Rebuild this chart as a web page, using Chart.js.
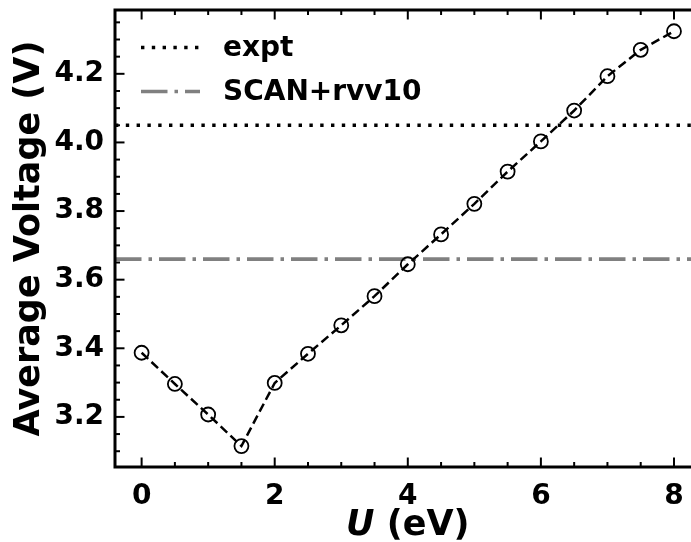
<!DOCTYPE html>
<html>
<head>
<meta charset="utf-8">
<script src="https://cdn.jsdelivr.net/npm/chart.js@4.4.1/dist/chart.umd.min.js"></script>
<style>
    html, body { margin: 0; padding: 0; background: #fff; }
    #wrap { width: 691px; height: 542px; overflow: hidden; }
    canvas { display: block; }
</style>
</head>
<body>
<div id="wrap"><canvas id="voltage-chart" width="704" height="542"></canvas></div>
<script>

const uValues = [0, 0.5, 1, 1.5, 2, 2.5, 3, 3.5, 4, 4.5, 5, 5.5, 6, 6.5, 7, 7.5, 8];
const avgVoltage = [3.387, 3.296, 3.207, 3.115, 3.299, 3.384, 3.467, 3.552, 3.645,
                    3.732, 3.821, 3.915, 4.003, 4.093, 4.193, 4.270, 4.324];
const exptVoltage = 4.05;
const scanVoltage = 3.66;

const xTickLabels = [0, 2, 4, 6, 8];
const yTickLabels = [3.2, 3.4, 3.6, 3.8, 4.0, 4.2];
const xRange = [-0.4, 8.4];
const yRange = [3.054, 4.386];

const FONT = "'DejaVu Sans', sans-serif";

// minor tick positions (every 0.5 on x, 0.05 on y)
const xMinor = Array.from({ length: 17 }, (_, i) => i * 0.5);
const yMinor = Array.from({ length: 26 }, (_, i) => +(3.1 + i * 0.05).toFixed(2));

const isMajor = (v, majors) => majors.some(m => Math.abs(m - v) < 1e-6);

// inward ticks on all four sides, frame, legend and the x title
const framePlugin = {
    id: 'frame',
    afterDatasetsDraw(chart) {
        const { ctx, chartArea: a, scales: { x, y } } = chart;
        ctx.save();
        ctx.strokeStyle = '#000';
        ctx.lineWidth = 2;
        ctx.setLineDash([]);

        const seg = (x1, y1, x2, y2) => {
            ctx.beginPath();
            ctx.moveTo(x1, y1);
            ctx.lineTo(x2, y2);
            ctx.stroke();
        };

        xMinor.forEach(v => {
            const px = x.getPixelForValue(v);
            const len = isMajor(v, xTickLabels) ? 9.5 : 5;
            seg(px, a.bottom, px, a.bottom - len);
            seg(px, a.top, px, a.top + len);
        });
        yMinor.forEach(v => {
            const py = y.getPixelForValue(v);
            if (py < a.top || py > a.bottom) return;
            const len = isMajor(v, yTickLabels) ? 9.5 : 5;
            seg(a.left, py, a.left + len, py);
            seg(a.right, py, a.right - len, py);
        });

        ctx.lineWidth = 3;
        ctx.strokeRect(a.left, a.top, a.right - a.left, a.bottom - a.top);

        // legend
        const items = chart.data.datasets.filter(d => d.inLegend);
        ctx.font = 'bold 28px ' + FONT;
        ctx.textBaseline = 'middle';
        ctx.textAlign = 'left';
        items.forEach((d, i) => {
            const ly = a.top + 37.5 + i * 44;
            ctx.strokeStyle = d.borderColor;
            ctx.lineWidth = d.borderWidth;
            ctx.lineCap = 'butt';
            ctx.setLineDash(d.borderDash || []);
            seg(a.left + 26, ly, a.left + 85, ly);
            ctx.setLineDash([]);
            ctx.fillStyle = '#000';
            ctx.fillText(d.label, a.left + 108, ly + 1);
        });

        // x axis title with italic U
        const cx = (a.left + a.right) / 2;
        const italic = 'italic bold 35px ' + FONT;
        const upright = 'bold 35px ' + FONT;
        ctx.font = italic;
        const wU = ctx.measureText('U').width;
        ctx.font = upright;
        const wRest = ctx.measureText(' (eV)').width;
        const startX = cx - (wU + wRest) / 2;
        ctx.textBaseline = 'alphabetic';
        ctx.font = italic;
        ctx.fillText('U', startX, 535);
        ctx.font = upright;
        ctx.fillText(' (eV)', startX + wU, 535);

        ctx.restore();
    }
};

const noScalePadding = scale => {
    scale.paddingTop = 0;
    scale.paddingBottom = 0;
    scale.paddingLeft = 0;
    scale.paddingRight = 0;
};

const chartConfig = {
    type: 'scatter',
    data: {
        datasets: [
            {
                label: 'DFT+U',
                data: uValues.map((u, i) => ({ x: u, y: avgVoltage[i] })),
                showLine: true,
                borderColor: '#000',
                borderWidth: 2.5,
                borderDash: [9, 4.5],
                pointStyle: 'circle',
                pointRadius: 7,
                pointBorderWidth: 1.8,
                pointBorderColor: '#000',
                pointBackgroundColor: 'rgba(0,0,0,0)',
                inLegend: false
            },
            {
                label: 'expt',
                data: xRange.map(u => ({ x: u, y: exptVoltage })),
                showLine: true,
                borderColor: '#000',
                borderWidth: 3.4,
                borderDash: [3.4, 7.4],
                pointRadius: 0,
                inLegend: true
            },
            {
                label: 'SCAN+rvv10',
                data: xRange.map(u => ({ x: u, y: scanVoltage })),
                showLine: true,
                borderColor: '#808080',
                borderWidth: 3.6,
                borderDash: [26.5, 7, 3.5, 7],
                pointRadius: 0,
                inLegend: true
            }
        ]
    },
    options: {
        responsive: false,
        maintainAspectRatio: false,
        animation: false,
        devicePixelRatio: 1,
        layout: {
            autoPadding: false,
            padding: { left: 0, top: 10, right: 3.4, bottom: 0 }
        },
        scales: {
            x: {
                type: 'linear',
                min: xRange[0],
                max: xRange[1],
                grid: { display: false, drawTicks: false },
                border: { display: false },
                afterBuildTicks: scale => {
                    scale.ticks = xTickLabels.map(v => ({ value: v }));
                },
                afterFit: scale => {
                    scale.height = 75;
                    noScalePadding(scale);
                },
                ticks: {
                    padding: 13,
                    color: '#000',
                    maxRotation: 0,
                    autoSkip: false,
                    font: { family: FONT, size: 28, weight: 'bold' },
                    callback: v => String(v)
                }
            },
            y: {
                type: 'linear',
                min: yRange[0],
                max: yRange[1],
                grid: { display: false, drawTicks: false },
                border: { display: false },
                afterBuildTicks: scale => {
                    scale.ticks = yTickLabels.map(v => ({ value: v }));
                },
                afterFit: scale => {
                    scale.width = 115;
                    noScalePadding(scale);
                },
                ticks: {
                    padding: 11,
                    color: '#000',
                    autoSkip: false,
                    font: { family: FONT, size: 28, weight: 'bold' },
                    callback: v => Number(v).toFixed(1)
                },
                title: {
                    display: true,
                    text: 'Average Voltage (V)',
                    color: '#000',
                    padding: { top: 12.5, bottom: 0 },
                    font: { family: FONT, size: 35, weight: 'bold', lineHeight: 1 }
                }
            }
        },
        plugins: {
            legend: { display: false },
            tooltip: { enabled: false }
        }
    },
    plugins: [framePlugin]
};

const canvas = document.getElementById('voltage-chart');
new Chart(canvas, chartConfig);
</script>
</body>
</html>
